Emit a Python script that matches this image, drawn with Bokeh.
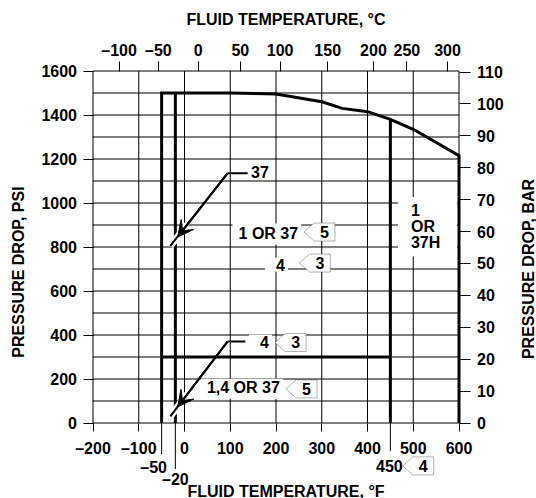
import math
from bokeh.plotting import figure
from bokeh.models import (Range1d, LinearAxis, FixedTicker, Label, Arrow, VeeHead,
                          PolyAnnotation, BoxAnnotation, ColumnDataSource)
from bokeh.embed import file_html
from bokeh.resources import INLINE

# ---------------- data ----------------
# outer limit curve: fluid temperature (deg F) vs pressure drop (psi)
envelope_temp_f = [-50, -50, 100, 200, 300, 345, 400, 450, 500, 600, 600]
envelope_psi = [0, 1500, 1500, 1495, 1460, 1430, 1415, 1380, 1335, 1215, 0]
# other limit lines
limit_m20_temp_f = [-20, -20]
limit_m20_psi = [0, 1500]
limit_450_temp_f = [450, 450]
limit_450_psi = [0, 1380]
limit_300_temp_f = [-50, 450]
limit_300_psi = [300, 300]

x_ticks_f = [-200, -100, 0, 100, 200, 300, 400, 500, 600]
x_tick_labels = ["\u2013200", "\u2013100", "0", "100", "200", "300", "400", "500", "600"]
y_ticks_psi = [0, 200, 400, 600, 800, 1000, 1200, 1400, 1600]
y_grid_psi = [0, 100, 200, 300, 400, 500, 600, 700, 800, 900, 1000,
              1100, 1200, 1300, 1400, 1500, 1600]
bar_ticks = [0, 10, 20, 30, 40, 50, 60, 70, 80, 90, 100, 110]
top_tick_pos_f = [-143, -57, 30, 122, 209, 313, 413, 486, 575]
top_tick_labels_c = ["\u2013100", "\u201350", "0", "50", "100", "150", "200", "250", "300"]
special_ticks_f = [-50, -20, 450]
special_tick_labels = ["\u201350", "\u201320", "450"]

# call-out arrows
arrow_start_f = [94, 94]
arrow_start_psi = [1135, 370]
arrow_tip_f = [-15, -15]
arrow_tip_psi = [845, 73]
arrow_end_f = [-31, -31]
arrow_end_psi = [805, 30]
leader_end_f = [138, 133]

# notes
note_texts = ["37", "1 OR 37", "4", "4", "1,4 OR 37"]
note_x_f = [141, 255, 226, 191, 215]
note_y_psi = [1141, 859, 720, 370, 156]
note_align = ["left", "right", "right", "right", "right"]

flag_numbers = ["5", "3", "3", "5", "4"]
flag_tip_f = [261, 251, 198, 222, 477]
flag_tip_psi = [868, 727, 366, 155, -195]

box_lines = ["1", "OR", "37H"]
box_x_f = 495
box_y_psi = [968, 891, 820]

PSI_PER_BAR = 14.5038

# ---------------- figure ----------------
FONT = "Liberation Sans"
FS = "16px"
W, H = 536, 498
GL, GR, GT, GB = 92, 458, 70, 422      # pixel box of the grid area
X0, X1, Y0, Y1 = -200, 600, 0, 1600
DXP = (X1 - X0) / (GR - GL)   # deg F per pixel
DYP = (Y1 - Y0) / (GB - GT)   # psi per pixel

x_range = Range1d(X0 - (GL + 0.5) * DXP, X1 + (W - GR - 0.5) * DXP)
y_range = Range1d(Y0 - (H - GB - 0.5) * DYP, Y1 + (GT + 0.5) * DYP)

p = figure(width=W, height=H, x_range=x_range, y_range=y_range,
           output_backend="svg", toolbar_location=None,
           x_axis_location=None, y_axis_location=None)
p.min_border = 0
p.min_border_left = 0
p.min_border_right = 0
p.min_border_top = 0
p.min_border_bottom = 0
p.outline_line_color = None
p.background_fill_color = "white"
p.border_fill_color = "white"
p.grid.visible = False

# ---------------- grid ----------------
p.segment(x_ticks_f, [Y0] * len(x_ticks_f), x_ticks_f, [Y1] * len(x_ticks_f),
          line_color="black", line_width=1)
p.segment([X0] * len(y_grid_psi), y_grid_psi, [X1] * len(y_grid_psi), y_grid_psi,
          line_color="black", line_width=1)

# ---------------- axes ----------------
p.extra_y_ranges = {"bar": Range1d(y_range.start / PSI_PER_BAR, y_range.end / PSI_PER_BAR)}

bottom_axis = LinearAxis(ticker=FixedTicker(ticks=x_ticks_f), fixed_location=Y0,
                         major_label_overrides=dict(zip(x_ticks_f, x_tick_labels)))
left_axis = LinearAxis(ticker=FixedTicker(ticks=y_ticks_psi), fixed_location=X0)
right_axis = LinearAxis(y_range_name="bar", ticker=FixedTicker(ticks=bar_ticks),
                        fixed_location=X1)
top_axis = LinearAxis(ticker=FixedTicker(ticks=top_tick_pos_f), fixed_location=Y1,
                      major_label_overrides=dict(zip(top_tick_pos_f, top_tick_labels_c)))
p.add_layout(bottom_axis, "below")
p.add_layout(left_axis, "left")
p.add_layout(right_axis, "right")
p.add_layout(top_axis, "above")

def style_axis(ax, tick_out, standoff):
    ax.axis_line_color = None
    ax.major_tick_line_color = "black"
    ax.major_tick_line_width = 1
    ax.major_tick_in = 0
    ax.major_tick_out = tick_out
    ax.minor_tick_line_color = None
    ax.major_label_standoff = standoff
    ax.major_label_text_font = FONT
    ax.major_label_text_font_style = "bold"
    ax.major_label_text_font_size = FS
    ax.major_label_text_color = "black"

style_axis(bottom_axis, 8, 9)
style_axis(left_axis, 10, 6)
style_axis(right_axis, 11, 7)
style_axis(top_axis, 10, 2)

# long ticks below the axis
special_len_px = [31, 46, 28]
p.segment(special_ticks_f, [Y0] * 3, special_ticks_f,
          [Y0 - ln * DYP for ln in special_len_px], line_color="black", line_width=1)

# ---------------- limit lines ----------------
p.line(envelope_temp_f, envelope_psi, line_color="black", line_width=3, line_join="miter")
p.line(limit_m20_temp_f, limit_m20_psi, line_color="black", line_width=3)
p.line(limit_450_temp_f, limit_450_psi, line_color="black", line_width=3)
p.line(limit_300_temp_f, limit_300_psi, line_color="black", line_width=3)

# ---------------- call-out arrows ----------------
halo_x0, halo_y0 = [], []
for sx, sy, tx, ty in zip(arrow_start_f, arrow_start_psi, arrow_tip_f, arrow_tip_psi):
    lpx = math.hypot((sx - tx) / DXP, (sy - ty) / DYP)
    f = 16.0 / lpx
    halo_x0.append(tx + (sx - tx) * f)
    halo_y0.append(ty + (sy - ty) * f)
p.segment(halo_x0, halo_y0, arrow_end_f, arrow_end_psi, line_color="white", line_width=7)
p.segment(arrow_start_f, arrow_start_psi, arrow_end_f, arrow_end_psi,
          line_color="black", line_width=2)
p.segment(arrow_start_f, arrow_start_psi, leader_end_f, arrow_start_psi,
          line_color="black", line_width=2)
arrow_src = ColumnDataSource(dict(x0=arrow_start_f, y0=arrow_start_psi,
                                  x1=arrow_tip_f, y1=arrow_tip_psi))
p.add_layout(Arrow(source=arrow_src, x_start="x0", y_start="y0", x_end="x1", y_end="y1",
                   line_color="black", line_width=2,
                   end=VeeHead(size=16, fill_color="black", line_color="black", line_width=1)))

# ---------------- helpers ----------------
def add_text(text, x, y, align="center", x_offset=0, y_offset=0, angle=0, padding=None):
    lab = Label(x=x, y=y, text=text, x_offset=x_offset, y_offset=y_offset, angle=angle,
                text_font=FONT, text_font_style="bold", text_font_size=FS,
                text_color="black", text_align=align, text_baseline="middle")
    if padding is not None:
        lab.background_fill_color = "white"
        lab.background_fill_alpha = 1
        lab.padding = padding
    p.add_layout(lab)

add_text(special_tick_labels[0], special_ticks_f[0], Y0, x_offset=-8, y_offset=-44)
add_text(special_tick_labels[1], special_ticks_f[1], Y0, x_offset=0, y_offset=-56)
add_text(special_tick_labels[2], special_ticks_f[2], Y0, x_offset=-1, y_offset=-43)

# notes with white backgrounds
note_pads = [dict(left=2, right=2, top=1, bottom=1),
             dict(left=6, right=3, top=1, bottom=3),
             dict(left=11, right=3, top=1, bottom=1),
             dict(left=11, right=3, top=1, bottom=1),
             dict(left=6, right=3, top=0, bottom=3)]
for t, x, y, a, pad in zip(note_texts, note_x_f, note_y_psi, note_align, note_pads):
    add_text(t, x, y, align=a, padding=pad)

# white box + stacked text
p.add_layout(BoxAnnotation(left=box_x_f - 13 * DXP, right=box_x_f + 46 * DXP,
                           top=box_y_psi[0] + 13 * DYP, bottom=box_y_psi[-1] - 14 * DYP,
                           fill_color="white", fill_alpha=1, line_color=None))
for t, y in zip(box_lines, box_y_psi):
    add_text(t, box_x_f, y, align="left")

# note flags
for num, tx, ty in zip(flag_numbers, flag_tip_f, flag_tip_psi):
    h = 9 * DYP
    xs = [tx, tx + 10 * DXP, tx + 31 * DXP, tx + 31 * DXP, tx + 10 * DXP]
    ys = [ty, ty + h, ty + h, ty - h, ty - h]
    p.add_layout(PolyAnnotation(xs=xs, ys=ys, fill_color="white", fill_alpha=1,
                                line_color="black", line_width=1))
    add_text(num, tx, ty, x_offset=20.5)

# axis titles
add_text("FLUID TEMPERATURE, \u00b0C", X0, Y1, x_offset=193, y_offset=52)
add_text("FLUID TEMPERATURE, \u00b0F", X0, Y0, x_offset=193, y_offset=-68)
add_text("PRESSURE DROP, PSI", X0, Y0, x_offset=-75, y_offset=151, angle=math.pi / 2)
add_text("PRESSURE DROP, BAR", X1, Y0, x_offset=69, y_offset=154, angle=math.pi / 2)

open("out.html", "w").write(file_html(p, INLINE))
